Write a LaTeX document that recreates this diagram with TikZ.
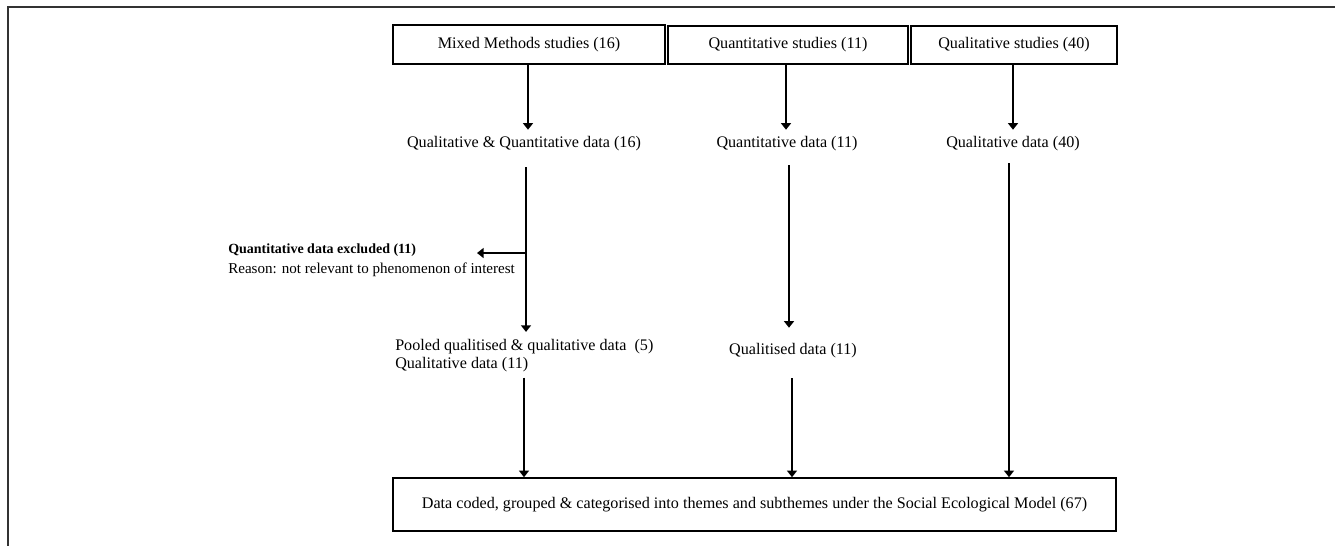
\documentclass[tikz,border=0pt]{standalone}
\usepackage{fontspec}
\setmainfont{Liberation Serif}
\usetikzlibrary{arrows.meta,calc}
\tikzset{
  box/.style={draw, line width=1.2pt, inner sep=0pt, font=\fontsize{12.1}{14}\selectfont},
  txt/.style={inner sep=0pt, text height=9pt, text depth=3pt, font=\fontsize{12.1}{14}\selectfont},
  arr/.style={line width=1.5pt, -{Triangle[width=7.5pt,length=5pt]}},
  frameline/.style={line width=1pt, draw=black!80}
}
\begin{document}
\begin{tikzpicture}[x=0.75pt,y=-0.75pt]
\useasboundingbox (0,0) rectangle (1335,546);
\draw[frameline] (8,546) -- (8,7) -- (1335,7);

% top boxes
\node[box, minimum width=204pt, minimum height=29.25pt] (mm) at (529,44.5) {Mixed Methods studies (16)};
\node[box, minimum width=180pt, minimum height=28.5pt] (qn) at (788,45) {Quantitative studies (11)};
\node[box, minimum width=154.5pt, minimum height=28.5pt] (ql) at (1014,45) {Qualitative studies (40)};

% data labels
\node[txt] (qqdata) at (524,143) {Qualitative \& Quantitative data (16)};
\node[txt] (qndata) at (787,143) {Quantitative data (11)};
\node[txt] (qldata) at (1013,143) {Qualitative data (40)};

% exclusion
\node[txt, anchor=west, font=\fontsize{10.5}{12}\selectfont\bfseries] (exclA) at (228,249) {Quantitative data excluded (11)};
\node[txt, anchor=west, font=\fontsize{11.3}{13}\selectfont] (exclB) at (228,269) {Reason: not relevant to phenomenon of interest};
\coordinate (split) at (526,253);
\coordinate (exTip) at (477,253);

% second level
\node[inner sep=0pt, anchor=west, align=left, font=\fontsize{12.1}{13.5}\selectfont] (pooled) at (395,356)
  {Pooled qualitised \& qualitative data\ \ (5)\\Qualitative data (11)};
\node[txt] (qualitised) at (793,350) {Qualitised data (11)};

% final box
\node[box, minimum width=542.25pt, minimum height=39.75pt] (final) at (754.5,504.5)
  {Data coded, grouped \& categorised into themes and subthemes under the Social Ecological Model (67)};

% arrows, mixed methods column
\draw[arr] (mm.south -| 528,0) -- ($(qqdata.north -| 528,0)+(0,-5)$);
\draw[arr] ($(qqdata.south -| 526,0)+(0,16)$) -- ($(pooled.north -| 526,0)+(0,-7.5)$);
\draw[arr] (split) -- (exTip);
\draw[arr] ($(pooled.south -| 524,0)+(0,5)$) -- (final.north -| 524,0);

% quantitative column
\draw[arr] (qn.south -| 786,0) -- ($(qndata.north -| 786,0)+(0,-5)$);
\draw[arr] ($(qndata.south -| 789,0)+(0,14)$) -- ($(qualitised.north -| 789,0)+(0,-14)$);
\draw[arr] ($(qualitised.south -| 792,0)+(0,20)$) -- (final.north -| 792,0);

% qualitative column
\draw[arr] (ql.south -| 1013,0) -- ($(qldata.north -| 1013,0)+(0,-5)$);
\draw[arr] ($(qldata.south -| 1009,0)+(0,12)$) -- (final.north -| 1009,0);
\end{tikzpicture}
\end{document}
